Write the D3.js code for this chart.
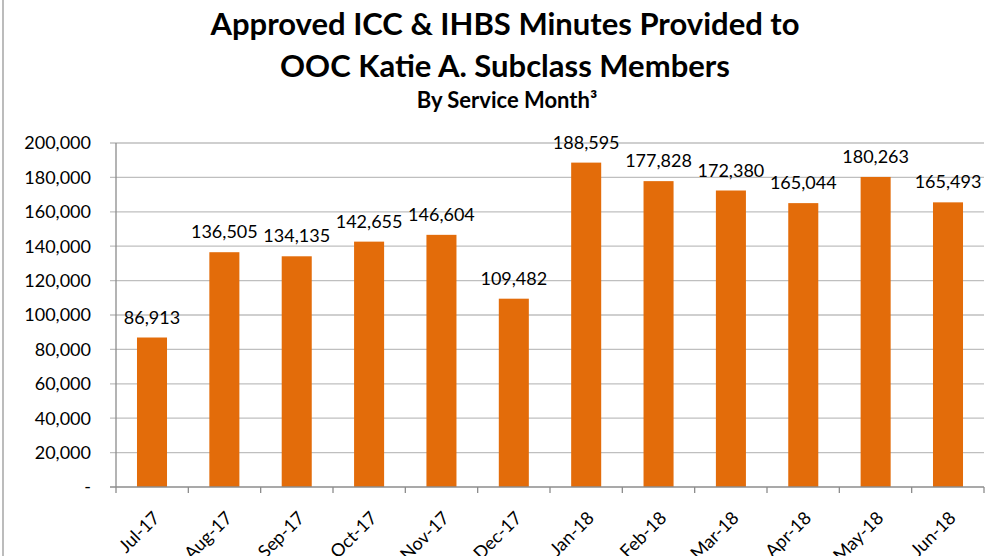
<!DOCTYPE html>
<html>
<head>
<meta charset="utf-8">
<script src="https://cdn.jsdelivr.net/npm/d3@7"></script>
<style>
  body { margin: 0; background: #fff; }
  text { font-family: Lato, "Open Sans", sans-serif; }
</style>
</head>
<body>
<script>
var months = ["Jul-17", "Aug-17", "Sep-17", "Oct-17", "Nov-17", "Dec-17",
              "Jan-18", "Feb-18", "Mar-18", "Apr-18", "May-18", "Jun-18"];
var minutes = [86913, 136505, 134135, 142655, 146604, 109482,
               188595, 177828, 172380, 165044, 180263, 165493];
var yTicks = [0, 20000, 40000, 60000, 80000, 100000, 120000, 140000, 160000, 180000, 200000];

var width = 985, height = 556;
var plotLeft = 116, plotRight = 984, plotTop = 143, plotBottom = 487;

var svg = d3.select("body").append("svg")
    .attr("width", width)
    .attr("height", height);

// chart border (only left edge is visible in the crop)
svg.append("line")
  .attr("x1", 3).attr("x2", 3).attr("y1", 0).attr("y2", height)
  .attr("stroke", "#a6a6a6").attr("stroke-width", 1.5);

var x = d3.scaleBand()
  .domain(months)
  .range([plotLeft, plotRight])
  .paddingInner(0.585)
  .paddingOuter(0.29);

var y = d3.scaleLinear()
  .domain([0, 200000])
  .range([plotBottom, plotTop]);

var fmt = d3.format(",");

// gridlines
svg.append("g").selectAll("line")
  .data(yTicks.slice(1))
  .enter().append("line")
    .attr("x1", plotLeft - 6).attr("x2", plotRight)
    .attr("y1", function(d){ return y(d); })
    .attr("y2", function(d){ return y(d); })
    .attr("stroke", "#bfbfbf").attr("stroke-width", 1.3);

// y labels
svg.append("g").selectAll("text")
  .data(yTicks)
  .enter().append("text")
    .attr("x", 91)
    .attr("y", function(d){ return y(d); })
    .attr("dy", "0.35em")
    .attr("text-anchor", "end")
    .attr("font-size", 18)
    .attr("fill", "#000")
    .text(function(d){ return d === 0 ? "-" : fmt(d); });

// bars
svg.append("g").selectAll("rect")
  .data(minutes)
  .enter().append("rect")
    .attr("x", function(d, i){ return x(months[i]); })
    .attr("y", function(d){ return y(d); })
    .attr("width", x.bandwidth())
    .attr("height", function(d){ return plotBottom - y(d); })
    .attr("fill", "#e36c0a");

// value labels
svg.append("g").selectAll("text")
  .data(minutes)
  .enter().append("text")
    .attr("x", function(d, i){ return x(months[i]) + x.bandwidth() / 2; })
    .attr("y", function(d){ return y(d) - 14; })
    .attr("text-anchor", "middle")
    .attr("font-size", 18)
    .attr("fill", "#000")
    .text(function(d){ return fmt(d); });

// axes lines
var step = (plotRight - plotLeft) / months.length;
svg.append("line")
  .attr("x1", plotLeft).attr("x2", plotLeft).attr("y1", plotTop).attr("y2", plotBottom)
  .attr("stroke", "#8c8c8c").attr("stroke-width", 1.3);
svg.append("line")
  .attr("x1", plotLeft - 6).attr("x2", plotRight).attr("y1", plotBottom).attr("y2", plotBottom)
  .attr("stroke", "#8c8c8c").attr("stroke-width", 1.3);
svg.append("g").selectAll("line")
  .data(d3.range(months.length + 1))
  .enter().append("line")
    .attr("x1", function(i){ return plotLeft + i * step; })
    .attr("x2", function(i){ return plotLeft + i * step; })
    .attr("y1", plotBottom).attr("y2", plotBottom + 6)
    .attr("stroke", "#8c8c8c").attr("stroke-width", 1.3);

// x labels
svg.append("g").selectAll("text")
  .data(months)
  .enter().append("text")
    .attr("transform", function(d){
      return "translate(" + (x(d) + x.bandwidth() / 2 + 9) + "," + (plotBottom + 32) + ") rotate(-45)";
    })
    .attr("text-anchor", "end")
    .attr("font-size", 18)
    .attr("fill", "#000")
    .text(function(d){ return d; });

// titles
svg.append("text")
  .attr("x", 505).attr("y", 35)
  .attr("text-anchor", "middle")
  .attr("font-size", 31).attr("font-weight", "bold")
  .text("Approved ICC & IHBS Minutes Provided to");
svg.append("text")
  .attr("x", 505).attr("y", 77)
  .attr("text-anchor", "middle")
  .attr("font-size", 31).attr("font-weight", "bold")
  .text("OOC Katie A. Subclass Members");
svg.append("text")
  .attr("x", 507).attr("y", 108)
  .attr("text-anchor", "middle")
  .attr("font-size", 22).attr("font-weight", "bold")
  .text("By Service Month³");
</script>
</body>
</html>
